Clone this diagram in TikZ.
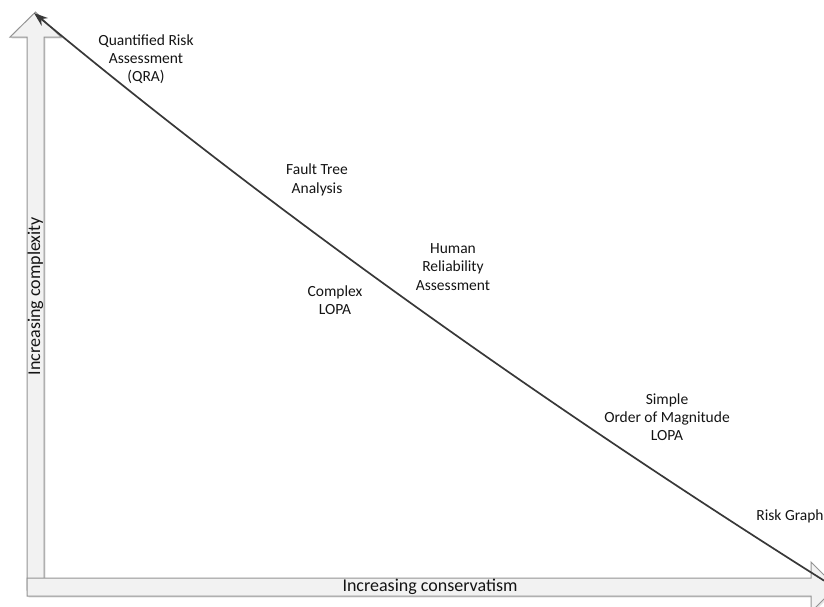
\documentclass[tikz,border=0pt]{standalone}
\usepackage{fontspec}
\setmainfont{Carlito}
\usetikzlibrary{arrows.meta}
\begin{document}
\begin{tikzpicture}[x=1pt,y=-1pt,
  blockarrow/.style={fill=black!5, draw=black!42, line width=1pt, line join=miter},
  arrowshadow/.style={fill=black!10},
  lbl/.style={align=center, text=black!92, font=\fontsize{15.5}{18.3}\selectfont, inner sep=0pt},
  axislbl/.style={text=black!92, font=\fontsize{18}{20}\selectfont, inner sep=0pt},
  trend/.style={draw=black!78, line width=1.7pt, {Stealth[length=14pt,width=10pt]}-}
]
\useasboundingbox (0,0) rectangle (824,606);
\begin{scope}
  \clip (0,0) rectangle (824,606);
  % soft shadows under the two block arrows
  \fill[arrowshadow] (28.5,592) -- (28.5,38.5) -- (11.5,38.5) -- (37,13.5) -- (62.5,38.5) -- (45.5,38.5) -- (45.5,592) -- cycle;
  \fill[arrowshadow] (28.5,579.5) -- (812.5,579.5) -- (812.5,563.5) -- (837.5,588.5) -- (812.5,613.5) -- (812.5,597.5) -- (28.5,597.5) -- cycle;
  % vertical axis arrow (complexity)
  \draw[blockarrow] (27,590) -- (27,37) -- (10,37) -- (35.5,12) -- (61,37) -- (44,37) -- (44,590) -- cycle;
  % horizontal axis arrow (conservatism)
  \draw[blockarrow] (27,578) -- (811,578) -- (811,562) -- (836,587) -- (811,612) -- (811,596) -- (27,596) -- cycle;
  % trend line from the complex end to the conservative end
  \coordinate (top) at (34,13);
  \coordinate (bottom) at (824,580.6);
  \draw[trend] (top) .. controls (267,206.3) and (530.5,395.3) .. (bottom);
\end{scope}
% axis titles
\node[axislbl, rotate=90] (ycap) at (35.5,296) {Increasing complexity};
\node[axislbl] (xcap) at (430,587) {Increasing conservatism};
% methods placed along the trend
\node[lbl] (qra) at (146,59) {Quantified Risk\\Assessment\\(QRA)};
\node[lbl] (fta) at (317,180) {Fault Tree\\Analysis};
\node[lbl] (hra) at (453,267) {Human\\Reliability\\Assessment};
\node[lbl] (clopa) at (335,300) {Complex\\LOPA};
\node[lbl] (slopa) at (667,417) {Simple\\Order of Magnitude\\LOPA};
\node[lbl] (rg) at (790,516) {Risk Graph};
\end{tikzpicture}
\end{document}
